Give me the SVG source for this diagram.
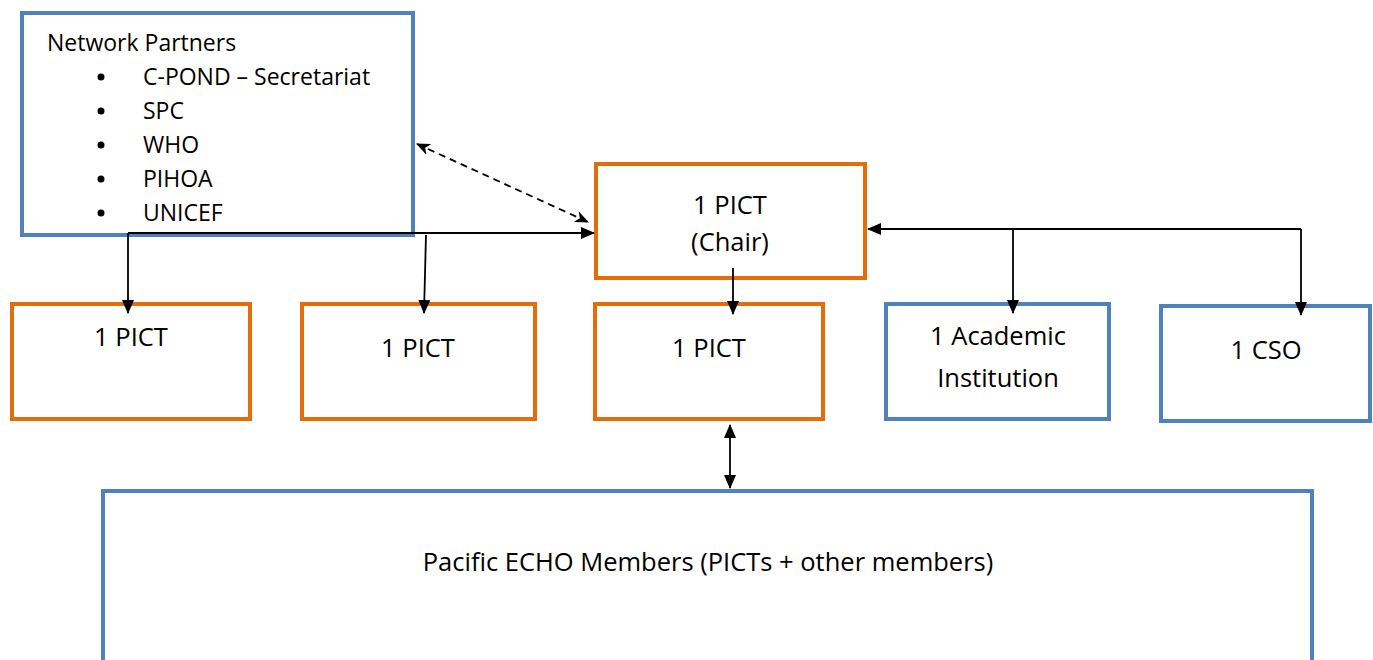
<svg xmlns="http://www.w3.org/2000/svg" width="1373" height="660" viewBox="0 0 1373 660">
  <style>
    .blue { fill: #ffffff; stroke: #4F81BD; stroke-width: 4; }
    .orange { fill: #ffffff; stroke: #E46C0A; stroke-width: 4; }
    text { font-family: "Open Sans", Lato, sans-serif; font-size: 25.5px; fill: #000000; }
    .list { font-size: 23px; }
    .c { text-anchor: middle; }
    .link { stroke: #000000; stroke-width: 1.8; fill: none; }
    .dash { stroke-dasharray: 7 5; }
  </style>
  <defs>
    <marker id="arrow" viewBox="0 0 14 12" refX="13" refY="6" markerWidth="14" markerHeight="12" markerUnits="userSpaceOnUse" orient="auto-start-reverse">
      <path d="M0,0 L14,6 L0,12 Z" fill="#000000"/>
    </marker>
    <marker id="open" viewBox="0 0 14 12" refX="13" refY="6" markerWidth="14" markerHeight="12" markerUnits="userSpaceOnUse" orient="auto-start-reverse">
      <path d="M0,0 L14,6 L0,12 L4,6 Z" fill="#000000"/>
    </marker>
  </defs>

  <g id="network-partners">
    <rect class="blue" x="22" y="13" width="391" height="222"/>
    <g class="list">
      <text class="list" x="47" y="51">Network Partners</text>
      <circle cx="101" cy="77" r="3.5"/>
      <text class="list" x="143" y="85">C-POND – Secretariat</text>
      <circle cx="101" cy="111" r="3.5"/>
      <text class="list" x="143" y="119">SPC</text>
      <circle cx="101" cy="145" r="3.5"/>
      <text class="list" x="143" y="153">WHO</text>
      <circle cx="101" cy="179" r="3.5"/>
      <text class="list" x="143" y="187">PIHOA</text>
      <circle cx="101" cy="213" r="3.5"/>
      <text class="list" x="143" y="221">UNICEF</text>
    </g>
  </g>

  <g id="chair">
    <rect class="orange" x="596" y="164" width="269" height="114"/>
    <text class="c" x="730" y="214">1 PICT</text>
    <text class="c" x="730" y="251">(Chair)</text>
  </g>

  <g id="pict-1">
    <rect class="orange" x="12" y="304" width="238" height="115"/>
    <text class="c" x="131" y="346">1 PICT</text>
  </g>
  <g id="pict-2">
    <rect class="orange" x="302" y="304" width="233" height="115"/>
    <text class="c" x="418" y="357">1 PICT</text>
  </g>
  <g id="pict-3">
    <rect class="orange" x="595" y="304" width="228" height="115"/>
    <text class="c" x="709" y="357">1 PICT</text>
  </g>
  <g id="academic">
    <rect class="blue" x="886" y="304" width="223" height="115"/>
    <text class="c" x="998" y="345">1 Academic</text>
    <text class="c" x="998" y="387">Institution</text>
  </g>
  <g id="cso">
    <rect class="blue" x="1161" y="306" width="209" height="115"/>
    <text class="c" x="1266" y="359">1 CSO</text>
  </g>
  <g id="members">
    <rect class="blue" x="103" y="491" width="1209" height="190"/>
    <text class="c" x="708" y="571">Pacific ECHO Members (PICTs + other members)</text>
  </g>

  <g id="connectors">
    <path class="link dash" d="M417,144 L588,222" marker-start="url(#open)" marker-end="url(#open)"/>
    <path class="link" d="M128,233 L594,233" marker-end="url(#arrow)"/>
    <path class="link" d="M128,233 L128,313" marker-end="url(#arrow)"/>
    <path class="link" d="M426,235 L424,313" marker-end="url(#arrow)"/>
    <path class="link" d="M1301,229 L868,229" marker-end="url(#arrow)"/>
    <path class="link" d="M1013,229 L1013,313" marker-end="url(#arrow)"/>
    <path class="link" d="M1301,229 L1301,315" marker-end="url(#arrow)"/>
    <path class="link" d="M733,268 L733,314" marker-end="url(#arrow)"/>
    <path class="link" d="M730,425 L730,488" marker-start="url(#arrow)" marker-end="url(#arrow)"/>
  </g>
</svg>
